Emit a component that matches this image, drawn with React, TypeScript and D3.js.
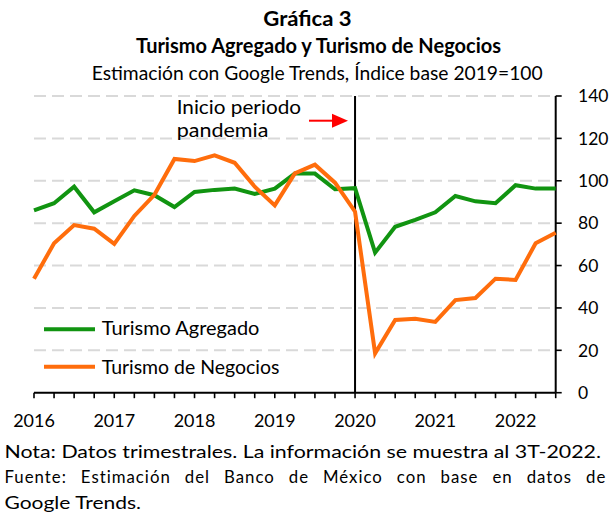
import React from "react";
import * as d3 from "d3";

const quarters: string[] = [
  "2016T1","2016T2","2016T3","2016T4",
  "2017T1","2017T2","2017T3","2017T4",
  "2018T1","2018T2","2018T3","2018T4",
  "2019T1","2019T2","2019T3","2019T4",
  "2020T1","2020T2","2020T3","2020T4",
  "2021T1","2021T2","2021T3","2021T4",
  "2022T1","2022T2","2022T3",
];
const turismoAgregado: number[] = [
  86, 89.4, 97.2, 85.1, 90.3, 95.5, 93.2, 87.6, 94.7, 95.7, 96.3, 93.8, 96.3, 103.4,
  103.4, 96.0, 96.5, 66.1, 78.3, 81.5, 85.1, 92.8, 90.3, 89.4, 97.9, 96.3, 96.3,
];
const turismoNegocios: number[] = [
  53.8, 70.5, 79.1, 77.4, 70.2, 83.4, 93.4, 110.3, 109.3, 112.0, 108.5, 97.2, 88.4, 103.5,
  107.6, 99.1, 85.4, 18.6, 34.3, 34.9, 33.4, 43.7, 44.7, 53.8, 53.2, 70.5, 75.5,
];
const yearLabels: string[] = ["2016", "2017", "2018", "2019", "2020", "2021", "2022"];
const yTicks: number[] = [0, 20, 40, 60, 80, 100, 120, 140];
const seriesNames: string[] = ["Turismo Agregado", "Turismo de Negocios"];
const pandemicStartIndex = 16;

const GREEN = "#119411";
const ORANGE = "#ff6d0c";
const FONT = "Lato, 'Open Sans', sans-serif";

export default function App() {
  const x = d3.scaleLinear().domain([0, quarters.length - 1]).range([34, 555.7]);
  const y = d3.scaleLinear().domain([0, 140]).range([392.7, 96]);
  const line = d3
    .line<number>()
    .x((_, i) => x(i))
    .y((d) => y(d));

  const yearX = (k: number) => x(k * 4);

  return (
    <div style={{ position: "absolute", left: 0, top: 0 }}>
      <svg width={614} height={516} style={{ display: "block", background: "#fff" }} fontFamily={FONT}>
        {/* titles */}
        <text x={263.3} y={26} fontSize={20} fontWeight={700} fill="#000" textLength={88.4} lengthAdjust="spacingAndGlyphs">
          Gráfica 3
        </text>
        <text x={136} y={53.3} fontSize={20} fontWeight={700} fill="#000" textLength={365} lengthAdjust="spacingAndGlyphs">
          Turismo Agregado y Turismo de Negocios
        </text>
        <text x={91.7} y={80} fontSize={19.5} fill="#000" textLength={451} lengthAdjust="spacingAndGlyphs">
          Estimación con Google Trends, Índice base 2019=100
        </text>

        {/* gridlines */}
        {yTicks.filter((t) => t > 0).map((t) => (
          <line key={"g" + t} x1={x(0)} x2={x(quarters.length - 1)} y1={y(t)} y2={y(t)}
            stroke="#d9d9d9" strokeWidth={2} strokeDasharray="12 6" />
        ))}

        {/* x axis */}
        <line x1={x(0)} x2={x(quarters.length - 1)} y1={y(0)} y2={y(0)} stroke="#000" strokeWidth={2} />
        {quarters.map((q, i) => (
          <line key={"xt" + q} x1={x(i)} x2={x(i)} y1={y(0)} y2={y(0) + 5.5} stroke="#000" strokeWidth={1.6} />
        ))}
        {yearLabels.map((lab, k) => (
          <text key={"yl" + lab} x={yearX(k)} y={426.5} fontSize={17} textAnchor="middle" fill="#000" textLength={41.7} lengthAdjust="spacingAndGlyphs">
            {lab}
          </text>
        ))}

        {/* y axis (right) */}
        <line x1={x(quarters.length - 1)} x2={x(quarters.length - 1)} y1={y(140)} y2={y(0)} stroke="#000" strokeWidth={2} />
        {yTicks.map((t) => (
          <g key={"yt" + t}>
            <line x1={x(quarters.length - 1)} x2={x(quarters.length - 1) + 6} y1={y(t)} y2={y(t)} stroke="#000" strokeWidth={1.6} />
            <text x={578} y={y(t) + 6.3} fontSize={17.5} fill="#000">{t}</text>
          </g>
        ))}

        {/* pandemic line */}
        <line x1={x(pandemicStartIndex)} x2={x(pandemicStartIndex)} y1={y(140)} y2={y(0)} stroke="#000" strokeWidth={2} />

        {/* series */}
        <path d={line(turismoAgregado) || ""} fill="none" stroke={GREEN} strokeWidth={4} strokeLinejoin="miter" />
        <path d={line(turismoNegocios) || ""} fill="none" stroke={ORANGE} strokeWidth={4} strokeLinejoin="miter" />

        {/* annotation */}
        <text x={176.7} y={114} fontSize={18.5} fill="#000" textLength={124.3} lengthAdjust="spacingAndGlyphs">Inicio periodo</text>
        <text x={176.7} y={136.7} fontSize={18.5} fill="#000" textLength={91.7} lengthAdjust="spacingAndGlyphs">pandemia</text>
        <line x1={309} x2={334} y1={120.7} y2={120.7} stroke="#ff0000" strokeWidth={2} />
        <path d="M332,113.7 L348,120.7 L332,127.7 Z" fill="#ff0000" />

        {/* legend */}
        <line x1={44} x2={95} y1={329.3} y2={329.3} stroke={GREEN} strokeWidth={4} />
        <text x={101.7} y={335} fontSize={18.5} fill="#000" textLength={157.7} lengthAdjust="spacingAndGlyphs">{seriesNames[0]}</text>
        <line x1={44} x2={95} y1={366.7} y2={366.7} stroke={ORANGE} strokeWidth={4} />
        <text x={101.7} y={374} fontSize={18.5} fill="#000" textLength={177.7} lengthAdjust="spacingAndGlyphs">{seriesNames[1]}</text>

        {/* footer */}
        <text x={4.5} y={457.5} fontSize={16.8} fill="#000" textLength={596.5} lengthAdjust="spacingAndGlyphs">
          Nota: Datos trimestrales. La información se muestra al 3T-2022.
        </text>
        <text x={4.5} y={483} fontSize={16.8} fill="#000" style={{ letterSpacing: "1px", wordSpacing: "8.7px" }}>
          Fuente: Estimación del Banco de México con base en datos de
        </text>
        <text x={4.5} y={508.5} fontSize={16.8} fill="#000" textLength={136.5} lengthAdjust="spacingAndGlyphs">
          Google Trends.
        </text>
      </svg>
    </div>
  );
}
